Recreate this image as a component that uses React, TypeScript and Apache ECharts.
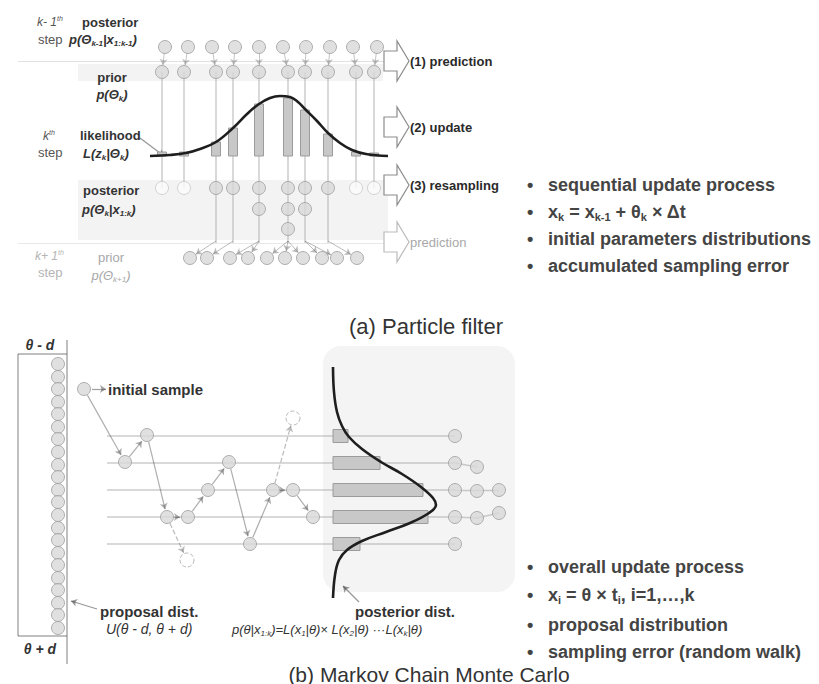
import { useEffect, useRef } from "react";
import * as echarts from "echarts";

const FONT = "'Liberation Sans', Arial, Helvetica, sans-serif";

// ---------------- (a) Particle filter ----------------
const prevPosteriorX = [165, 188, 212, 235, 259, 283, 306, 330, 353, 377];
const priorX = [162, 184, 216, 233, 259, 288, 305, 328, 356, 374];
const likelihoodTop = [152, 152, 142, 128, 104, 98, 110, 134, 152, 153];
const copies = [0, 0, 1, 1, 2, 3, 2, 1, 0, 0];
const nextPriorX = [190, 207, 230, 248, 267, 285, 303, 322, 337, 357];
const nextParentX = [216, 233, 259, 259, 288, 288, 288, 305, 305, 328];
const likelihoodCurve = [
  [150, 156], [170, 155], [186, 153], [200, 149], [216, 142], [233, 128], [247, 114],
  [259, 104], [270, 98], [280, 96], [290, 97], [298, 102], [305, 109], [317, 121],
  [328, 133], [340, 143], [352, 150], [366, 154], [388, 156],
];
const prevRowY = 47;
const priorRowY = 72;
const copyRowsY = [188, 209, 229];
const nextRowY = 258;
const baseY = 156;
const dividerY = [61, 243];
const stageY = [61, 127, 185, 242];
const stageLabels = ["(1) prediction", "(2) update", "(3) resampling", "prediction"];
const pfBulletY = [185, 212, 239, 266];
const pfBullets = [
  "{n|sequential update process}",
  "{n|x}{s|k}{n| = x}{s|k-1}{n| + θ}{s|k}{n| × Δt}",
  "{n|initial parameters distributions}",
  "{n|accumulated sampling error}",
];

// ---------------- (b) Markov Chain Monte Carlo ----------------
const levelY = [436, 463, 490, 517, 544];
const proposalColumnY = [364, 377, 389, 402, 414, 427, 439, 452, 465, 477, 490, 502, 515, 528, 540, 553, 565, 578, 590, 603, 615, 628];
const walkX = [84, 125, 147, 167, 188, 208, 229, 250, 273, 293, 313];
const walkY = [389, 462, 435, 517, 517, 490, 462, 544, 490, 490, 517];
const rejectedX = [187, 293];
const rejectedY = [560, 418];
const rejectedFrom = [3, 8];
const histLen = [15, 47, 90, 95, 27];
const keptX = [455, 455, 477, 455, 477, 499, 455, 477, 499, 455];
const keptY = [436, 463, 467, 490, 491, 490, 517, 518, 513, 544];
const posteriorCurve = [
  [333, 367], [334, 392], [337, 412], [342, 426], [349, 437], [362, 449], [381, 462],
  [402, 474], [421, 487], [433, 498], [436, 505], [429, 513], [410, 523], [386, 532],
  [362, 541], [347, 550], [339, 560], [335, 575], [333, 598],
];
const mcmcBulletY = [567, 595, 625, 652];
const mcmcBullets = [
  "{n|overall update process}",
  "{n|x}{s|i}{n| = θ × t}{s|i}{n|, i=1,…,k}",
  "{n|proposal distribution}",
  "{n|sampling error (random walk)}",
];

// ---------------- helpers ----------------
function seg(a: number[], b: number[], r0 = 0, r1 = 0) {
  const dx = b[0] - a[0];
  const dy = b[1] - a[1];
  const L = Math.hypot(dx, dy) || 1;
  return [
    [a[0] + (dx * r0) / L, a[1] + (dy * r0) / L],
    [b[0] - (dx * r1) / L, b[1] - (dy * r1) / L],
  ];
}

function richSet(size: number, color: string, italic: boolean, bold: boolean) {
  const base = {
    fontFamily: FONT,
    fontStyle: italic ? "italic" : "normal",
    fontWeight: bold ? "bold" : "normal",
    fill: color,
  };
  const small = Math.round(size * 0.62);
  return {
    n: { ...base, fontSize: size, lineHeight: size + 3, verticalAlign: "middle" },
    s: { ...base, fontSize: small, lineHeight: small + 1, verticalAlign: "bottom" },
    u: { ...base, fontSize: small, lineHeight: small + 1, verticalAlign: "top" },
  };
}

function txt(
  x: number,
  y: number,
  text: string,
  size: number,
  color: string,
  opts: { italic?: boolean; bold?: boolean; align?: string } = {}
) {
  const rt = text.indexOf("{") === 0 ? text : `{n|${text}}`;
  return {
    type: "text",
    x,
    y,
    silent: true,
    z: 100,
    style: {
      text: rt,
      align: opts.align ?? "left",
      verticalAlign: "middle",
      fontFamily: FONT,
      fontSize: size,
      fill: color,
      rich: richSet(size, color, !!opts.italic, !!opts.bold),
    },
  };
}

function buildOption() {
  // ---- plain lines ----
  const plain: any[] = [];
  const L = (a: number[], b: number[], color: string, width: number) =>
    plain.push({ coords: [a, b], lineStyle: { color, width } });
  L([18, dividerY[0]], [385, dividerY[0]], "#c4c4c4", 1);
  L([18, dividerY[1]], [385, dividerY[1]], "#d2d2d2", 1);
  priorX.forEach((x) => L([x, priorRowY], [x, copyRowsY[0]], "#b4b4b4", 2));
  priorX.forEach((x, i) => {
    if (copies[i] > 0) L([x, copyRowsY[0]], [x, dividerY[1]], "#b4b4b4", 2);
  });
  levelY.forEach((y) => L([107, y], [455, y], "#9c9c9c", 1.6));
  L([455, 463], [477, 467], "#9c9c9c", 1.4);
  L([455, 490], [499, 490], "#9c9c9c", 1.4);
  L([455, 517], [477, 518], "#9c9c9c", 1.4);
  L([477, 518], [499, 513], "#9c9c9c", 1.4);
  // proposal box
  L([18, 354], [18, 636], "#555", 1.5);
  L([18, 354], [67, 354], "#555", 1.5);
  L([18, 636], [67, 636], "#555", 1.5);
  L([67, 340], [67, 664], "#555", 1.5);

  // ---- arrows ----
  const arrows: any[] = [];
  const A = (c: number[][], color: string, width: number) =>
    arrows.push({ coords: c, lineStyle: { color, width } });
  prevPosteriorX.forEach((x, i) =>
    A(seg([x, prevRowY], [priorX[i], priorRowY], 6, 7), "#8a8a8a", 1)
  );
  nextPriorX.forEach((x, i) =>
    A(seg([nextParentX[i], dividerY[1] - 2], [x, nextRowY], 0, 7), "#777", 1)
  );
  A(seg([140, 138], [164, 156]), "#333", 1.3);
  for (let i = 0; i < walkX.length - 1; i++) {
    A(seg([walkX[i], walkY[i]], [walkX[i + 1], walkY[i + 1]], 7, 8), "#5e5e5e", 1.2);
  }
  A(seg([92, 389], [106, 389]), "#444", 1.2);
  A(seg([97, 609], [71, 601]), "#333", 1.3);
  A(seg([359, 602], [343, 586]), "#333", 1.3);

  const dashed: any[] = rejectedX.map((x, i) => ({
    coords: seg([walkX[rejectedFrom[i]], walkY[rejectedFrom[i]]], [x, rejectedY[i]], 7, 8),
  }));

  // ---- circles ----
  const normalCircles: number[][] = [];
  const fadedCircles: number[][] = [];
  prevPosteriorX.forEach((x) => normalCircles.push([x, prevRowY]));
  priorX.forEach((x) => normalCircles.push([x, priorRowY]));
  priorX.forEach((x, i) => {
    if (copies[i] === 0) fadedCircles.push([x, copyRowsY[0]]);
    for (let c = 0; c < copies[i]; c++) normalCircles.push([x, copyRowsY[c]]);
  });
  nextPriorX.forEach((x) => normalCircles.push([x, nextRowY]));
  proposalColumnY.forEach((y) => normalCircles.push([58, y]));
  walkX.forEach((x, i) => normalCircles.push([x, walkY[i]]));
  keptX.forEach((x, i) => normalCircles.push([x, keptY[i]]));
  const dashedCircles = rejectedX.map((x, i) => [x, rejectedY[i]]);

  const rectRender = (fill: string, r: number) => (params: any, api: any) => {
    const p0 = api.coord([api.value(0), api.value(1)]);
    const p1 = api.coord([api.value(2), api.value(3)]);
    return {
      type: "rect",
      shape: { x: p0[0], y: p0[1], width: p1[0] - p0[0], height: p1[1] - p0[1], r },
      style: { fill, lineWidth: 0 },
    };
  };

  const series: any[] = [
    {
      type: "custom",
      name: "bands",
      z: 1,
      silent: true,
      renderItem: rectRender("#f3f3f3", 0),
      data: [
        [78, 64, 383, 81],
        [78, 180, 388, 240],
      ],
    },
    {
      type: "custom",
      name: "posteriorBackground",
      z: 1,
      silent: true,
      renderItem: rectRender("#f4f4f4", 18),
      data: [[323, 346, 515, 592]],
    },
    {
      type: "lines",
      coordinateSystem: "cartesian2d",
      z: 2,
      silent: true,
      symbol: "none",
      data: plain,
    },
    {
      type: "lines",
      coordinateSystem: "cartesian2d",
      z: 3,
      silent: true,
      symbol: ["none", "arrow"],
      symbolSize: 6,
      data: arrows,
    },
    {
      type: "lines",
      coordinateSystem: "cartesian2d",
      z: 3,
      silent: true,
      symbol: ["none", "arrow"],
      symbolSize: 6,
      lineStyle: { color: "#777", width: 1.2, type: "dashed" },
      data: dashed,
    },
    {
      type: "custom",
      name: "likelihoodBars",
      z: 4,
      silent: true,
      renderItem: (params: any, api: any) => {
        const p0 = api.coord([api.value(0) - 4.5, api.value(1)]);
        const p1 = api.coord([api.value(0) + 4.5, baseY]);
        return {
          type: "rect",
          shape: { x: p0[0], y: p0[1], width: p1[0] - p0[0], height: p1[1] - p0[1] },
          style: { fill: "#c8c8c8", stroke: "#9c9c9c", lineWidth: 1 },
        };
      },
      data: priorX.map((x, i) => [x, likelihoodTop[i]]),
    },
    {
      type: "custom",
      name: "histogramBars",
      z: 4,
      silent: true,
      renderItem: (params: any, api: any) => {
        const y = api.value(1);
        const p0 = api.coord([333, y - 6.5]);
        const p1 = api.coord([333 + api.value(0), y + 6.5]);
        return {
          type: "rect",
          shape: { x: p0[0], y: p0[1], width: p1[0] - p0[0], height: p1[1] - p0[1] },
          style: { fill: "#c8c8c8", stroke: "#9c9c9c", lineWidth: 1 },
        };
      },
      data: histLen.map((l, i) => [l, levelY[i]]),
    },
    {
      type: "line",
      z: 5,
      silent: true,
      smooth: 0.4,
      showSymbol: false,
      symbol: "none",
      lineStyle: { color: "#1e1e1e", width: 2.6 },
      data: likelihoodCurve,
    },
    {
      type: "line",
      z: 5,
      silent: true,
      smooth: 0.4,
      showSymbol: false,
      symbol: "none",
      lineStyle: { color: "#1e1e1e", width: 2.6 },
      data: posteriorCurve,
    },
    {
      type: "custom",
      name: "stageArrows",
      z: 5,
      silent: true,
      renderItem: (params: any, api: any) => {
        const p = api.coord([api.value(0), api.value(1)]);
        const faded = params.dataIndex === stageY.length - 1;
        const pts = [[0, -10], [13, -10], [13, -20], [25, 0], [13, 20], [13, 10], [0, 10]].map(
          (d) => [p[0] + d[0], p[1] + d[1]]
        );
        return {
          type: "polygon",
          shape: { points: pts },
          style: { fill: "#fff", stroke: faded ? "#bbb" : "#8c8c8c", lineWidth: 1.2 },
        };
      },
      data: stageY.map((y) => [384, y]),
    },
    {
      type: "scatter",
      z: 6,
      silent: true,
      symbol: "circle",
      symbolSize: 13,
      itemStyle: { color: "#d8d8d8", borderColor: "#9e9e9e", borderWidth: 1 },
      data: normalCircles,
    },
    {
      type: "scatter",
      z: 6,
      silent: true,
      symbol: "circle",
      symbolSize: 13,
      itemStyle: { color: "#fbfbfb", borderColor: "#c8c8c8", borderWidth: 1 },
      data: fadedCircles,
    },
    {
      type: "scatter",
      z: 6,
      silent: true,
      symbol: "circle",
      symbolSize: 14,
      itemStyle: { color: "#ffffff", borderColor: "#a8a8a8", borderWidth: 1, borderType: "dashed" },
      data: dashedCircles,
    },
  ];

  const dark = "#333";
  const mid = "#555";
  const light = "#b4b4b4";
  const graphic: any[] = [
    // (a) labels
    txt(37, 22, "{n|k- 1}{u|th}", 12, mid, { italic: true }),
    txt(82, 22, "posterior", 13, dark, { bold: true }),
    txt(38, 39, "step", 13, mid),
    txt(69, 39, "{n|p(Θ}{s|k-1}{n||x}{s|1:k-1}{n|)}", 13, dark, { italic: true, bold: true }),
    txt(112, 77, "prior", 13, dark, { bold: true, align: "center" }),
    txt(112, 94, "{n|p(Θ}{s|k}{n|)}", 13, dark, { italic: true, bold: true, align: "center" }),
    txt(43, 136, "{n|k}{u|th}", 12, mid, { italic: true }),
    txt(38, 152, "step", 13, mid),
    txt(80, 135, "likelihood", 13, dark, { bold: true }),
    txt(83, 153, "{n|L(z}{s|k}{n||Θ}{s|k}{n|)}", 13, dark, { italic: true, bold: true }),
    txt(83, 190, "posterior", 13, dark, { bold: true }),
    txt(82, 209, "{n|p(Θ}{s|k}{n||x}{s|1:k}{n|)}", 13, dark, { italic: true, bold: true }),
    txt(35, 256, "{n|k+ 1}{u|th}", 12, light, { italic: true }),
    txt(38, 272, "step", 13, light),
    txt(111, 257, "prior", 13, "#a8a8a8", { align: "center" }),
    txt(111, 275, "{n|p(Θ}{s|k+1}{n|)}", 13, "#a8a8a8", { italic: true, align: "center" }),
    ...stageLabels.map((s, i) =>
      txt(410, stageY[i], s, 13, i === 3 ? "#a8a8a8" : "#2a2a2a", { bold: i !== 3 })
    ),
    ...pfBullets.map((s, i) => txt(527, pfBulletY[i], "•", 18, "#444", { bold: true })),
    ...pfBullets.map((s, i) => txt(548, pfBulletY[i], s, 18, "#444", { bold: true })),
    txt(426, 326, "(a) Particle filter", 22, "#333", { align: "center" }),
    // (b) labels
    txt(40, 345, "θ - d", 14, dark, { italic: true, bold: true, align: "center" }),
    txt(40, 649, "θ + d", 14, dark, { italic: true, bold: true, align: "center" }),
    txt(108, 389, "initial sample", 15, dark, { bold: true }),
    txt(100, 611, "proposal dist.", 15, dark, { bold: true }),
    txt(106, 629, "U(θ - d, θ + d)", 14, dark, { italic: true }),
    txt(355, 611, "posterior dist.", 15, dark, { bold: true }),
    txt(
      232,
      629,
      "{n|p(θ|x}{s|1:k}{n|)=L(x}{s|1}{n||θ)× L(x}{s|2}{n||θ) ···L(x}{s|k}{n||θ)}",
      13,
      dark,
      { italic: true }
    ),
    ...mcmcBullets.map((s, i) => txt(527, mcmcBulletY[i], "•", 18, "#444", { bold: true })),
    ...mcmcBullets.map((s, i) => txt(548, mcmcBulletY[i], s, 18, "#444", { bold: true })),
    txt(429, 674, "(b) Markov Chain Monte Carlo", 21, "#333", { align: "center" }),
  ];

  return {
    animation: false,
    backgroundColor: "#ffffff",
    grid: { left: 0, right: 0, top: 0, bottom: 0, containLabel: false },
    xAxis: { type: "value", min: 0, max: 819, show: false },
    yAxis: { type: "value", min: 0, max: 684, inverse: true, show: false },
    series,
    graphic,
  };
}

export default function App() {
  const ref = useRef<HTMLDivElement>(null);
  useEffect(() => {
    if (!ref.current) return;
    const chart = echarts.init(ref.current, undefined, { renderer: "svg" });
    chart.setOption(buildOption() as any);
    return () => chart.dispose();
  }, []);
  return (
    <div
      ref={ref}
      style={{ position: "fixed", left: 0, top: 0, width: 819, height: 684, background: "#fff" }}
    />
  );
}
